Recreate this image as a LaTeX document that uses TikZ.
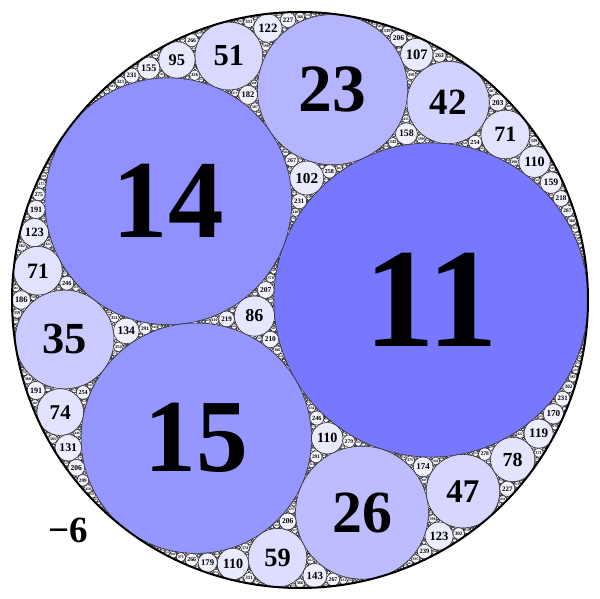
\documentclass[tikz,border=0pt]{standalone}
\usepackage{fontspec}
\setmainfont{Liberation Serif}
\tikzset{
  circ/.style={draw=black!85, line width=0.55pt},
  outer/.style={draw=black, line width=2pt},
  lab/.style={inner sep=0pt, text=black}
}
\def\maxk{2000}
\def\labmax{1000}
\def\splitc#1,#2,#3\relax#4#5#6{\def#4{#1}\def#5{#2}\def#6{#3}}
\def\drawcirc#1#2#3{%
  \pgfmathsetmacro\pp{378*(#1)^(-0.82)}%
  \pgfmathsetmacro\cx{57.6*((#2)/(#1))}%
  \pgfmathsetmacro\cy{57.6*((#3)/(#1))}%
  \pgfmathsetmacro\rr{1728/(#1)}%
  \draw[circ, fill=blue!\pp!white] (\cx,\cy) circle (\rr);%
  \ifnum#1<\labmax\relax
    \pgfmathsetmacro\fs{0.9*\rr}%
    \node[lab, font=\bfseries\fontsize{\fs}{\fs}\selectfont] at (\cx,\cy) {#1};%
  \fi}
\def\gen#1#2#3#4{%
  \begingroup
  \splitc#1\relax\Ak\Ax\Ay
  \splitc#2\relax\Bk\Bx\By
  \splitc#3\relax\Ck\Cx\Cy
  \splitc#4\relax\Dk\Dx\Dy
  \edef\Ek{\the\numexpr 2*(\Ak+\Bk+\Ck)-(\Dk)\relax}%
  \ifnum\Ek>\maxk\relax
    \let\gnext\relax
  \else
    \edef\Ex{\the\numexpr 2*(\Ax+\Bx+\Cx)-(\Dx)\relax}%
    \edef\Ey{\the\numexpr 2*(\Ay+\By+\Cy)-(\Dy)\relax}%
    \drawcirc\Ek\Ex\Ey
    \edef\gnext{\noexpand\gen{#1}{#2}{\Ek,\Ex,\Ey}{#3}%
      \noexpand\gen{#1}{#3}{\Ek,\Ex,\Ey}{#2}%
      \noexpand\gen{#2}{#3}{\Ek,\Ex,\Ey}{#1}}%
  \fi
  \gnext
  \endgroup}
\begin{document}
\begin{tikzpicture}[x=1pt,y=1pt]
\useasboundingbox (-300,-299) rectangle (300,300);
\drawcirc{11}{25}{0}
\drawcirc{14}{-32}{24}
\drawcirc{15}{-27}{-36}
\gen{11,25,0}{14,-32,24}{15,-27,-36}{-6,0,0}
\gen{-6,0,0}{14,-32,24}{15,-27,-36}{11,25,0}
\gen{-6,0,0}{11,25,0}{15,-27,-36}{14,-32,24}
\gen{-6,0,0}{11,25,0}{14,-32,24}{15,-27,-36}
\draw[outer] (0,0) circle (288);
\node[lab, font=\bfseries\fontsize{37}{37}\selectfont] (m6) at (-232,-230) {−6};
\end{tikzpicture}
\end{document}
